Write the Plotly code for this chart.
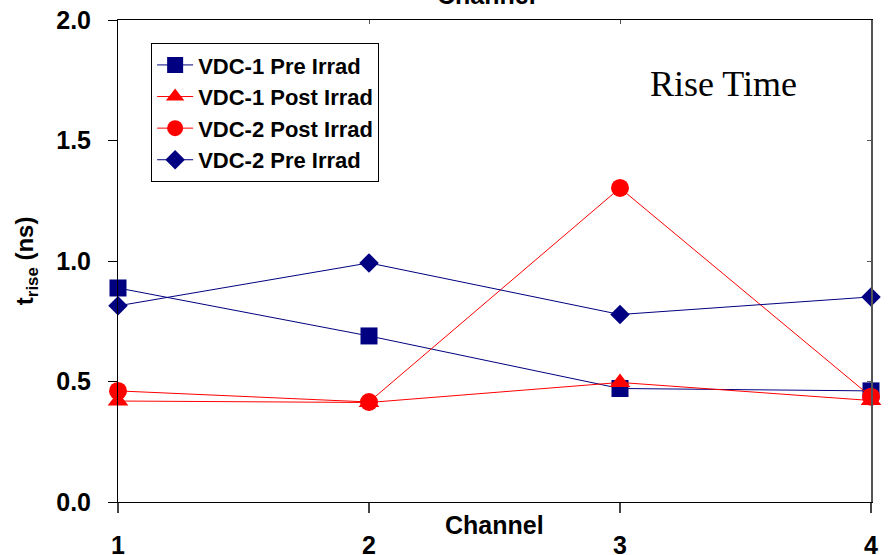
import plotly.graph_objects as go

channels = [1, 2, 3, 4]
vdc1_pre = [0.888, 0.689, 0.471, 0.461]
vdc1_post = [0.419, 0.413, 0.496, 0.421]
vdc2_post = [0.461, 0.415, 1.303, 0.437]
vdc2_pre = [0.814, 0.992, 0.778, 0.851]

y_ticks = [0.0, 0.5, 1.0, 1.5, 2.0]
y_ticktext = ["0.0", "0.5", "1.0", "1.5", "2.0"]

NAVY = "#000080"
RED = "#FF0000"
FONT = "Liberation Sans"
BOLD25 = dict(family=FONT, size=25, color="black", weight="bold")

series = [
    ("VDC-1 Pre Irrad", vdc1_pre, NAVY, "square", 17),
    ("VDC-1 Post Irrad", vdc1_post, RED, "triangle-up", 18),
    ("VDC-2 Post Irrad", vdc2_post, RED, "circle", 18),
    ("VDC-2 Pre Irrad", vdc2_pre, NAVY, "diamond", 15),
]

fig = go.Figure()
for name, vals, col, sym, sz in series:
    fig.add_trace(go.Scatter(
        x=channels, y=vals, name=name, mode="lines+markers",
        line=dict(color=col, width=1),
        marker=dict(symbol=sym, size=sz, color=col, line=dict(width=0)),
        cliponaxis=False,
    ))

# invisible trace to activate secondary (top/right) axes
fig.add_trace(go.Scatter(x=[channels[0]], y=[y_ticks[0]], xaxis="x2", yaxis="y2",
                         mode="markers", marker=dict(opacity=0), showlegend=False,
                         hoverinfo="skip"))

fig.update_layout(
    width=890, height=555,
    margin=dict(l=118, r=19, t=20, b=53),
    paper_bgcolor="white", plot_bgcolor="white",
    font=dict(family=FONT, color="black"),
    showlegend=True,
    legend=dict(
        x=0.044, y=0.952, xanchor="left", yanchor="top",
        bgcolor="white", bordercolor="black", borderwidth=1,
        font=dict(family=FONT, size=22, color="black", weight="bold"),
        itemwidth=36, tracegroupgap=0,
    ),
    xaxis=dict(
        range=[1, 4], tickvals=channels, ticktext=[str(c) for c in channels],
        showline=True, linecolor="black", linewidth=1,
        ticks="outside", ticklen=10, tickcolor="#444444", tickwidth=2,
        showgrid=False, zeroline=False, automargin=False,
        tickfont=BOLD25,
        ticklabelstandoff=11,
    ),
    yaxis=dict(
        range=[0, 2], tickvals=y_ticks, ticktext=y_ticktext,
        showline=True, linecolor="black", linewidth=1,
        ticks="outside", ticklen=9, tickcolor="black",
        showgrid=False, zeroline=False, automargin=False,
        tickfont=BOLD25,
        ticklabelstandoff=12,
    ),
    xaxis2=dict(
        range=[1, 4], overlaying="x", side="top", anchor="y",
        tickvals=channels, showticklabels=False,
        showline=True, linecolor="black", linewidth=1,
        ticks="inside", ticklen=4, tickcolor="#555555",
        showgrid=False, zeroline=False, automargin=False,
    ),
    yaxis2=dict(
        range=[0, 2], overlaying="y", side="right", anchor="x",
        tickvals=y_ticks, showticklabels=False,
        showline=True, linecolor="#555555", linewidth=2,
        ticks="inside", ticklen=4, tickcolor="#555555",
        showgrid=False, zeroline=False, automargin=False,
    ),
    annotations=[
        dict(text="Channel", x=0.5, y=-0.047, xref="paper", yref="paper",
             xanchor="center", yanchor="middle", showarrow=False, font=BOLD25),
        dict(text="Channel", x=0.49, y=1, xref="paper", yref="paper",
             xanchor="center", yanchor="bottom", yshift=9, showarrow=False,
             font=BOLD25),
        dict(text="t<sub>rise</sub> (ns)", x=-0.122, y=0.5, xref="paper", yref="paper",
             xanchor="center", yanchor="middle", textangle=-90, showarrow=False,
             font=dict(family=FONT, size=24, color="black", weight="bold")),
        dict(text="Rise Time", x=0.8035, y=0.867, xref="paper", yref="paper",
             xanchor="center", yanchor="middle", showarrow=False,
             font=dict(family="Liberation Serif", size=36, color="black")),
    ],
)

fig.write_html("out.html")
